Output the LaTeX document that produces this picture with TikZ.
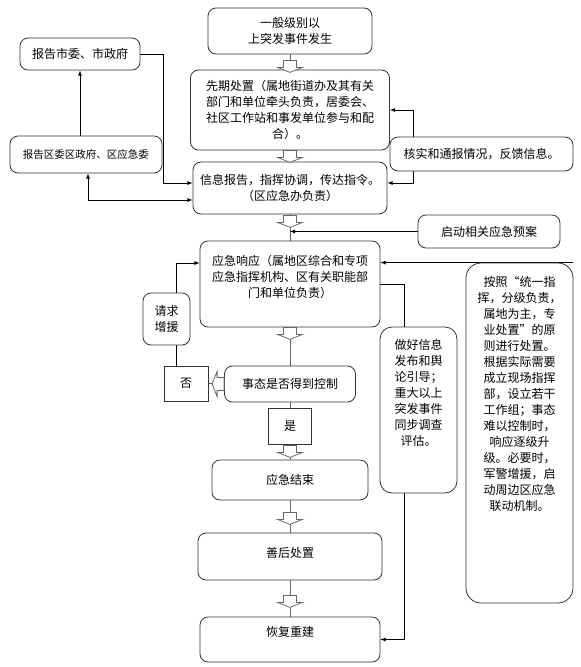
\documentclass[tikz,border=0pt]{standalone}
\usepackage{fontspec}
\newfontfamily\cjkfont{Noto Sans CJK SC}
\usepackage{tikz}
\usetikzlibrary{arrows,backgrounds,positioning}
\tikzset{
	flowbox/.style={rectangle, rounded corners=8pt, draw=black!80, fill=white, line width=0.8pt, inner sep=0pt, align=center, font=\cjkfont\fontsize{12}{16}\selectfont},
	squarebox/.style={flowbox, rounded corners=0pt},
	boxtext/.style={inner sep=0pt, align=center, font=\cjkfont\fontsize{12}{16}\selectfont},
	mainline/.style={draw=black!60, line width=0.8pt},
	sideline/.style={draw=black, line width=0.8pt, -latex},
	hollowarrow/.pic={\draw[draw=black!60, line width=0.8pt, fill=white] (-6.5pt,0pt) -- (-6.5pt,-7pt) -- (-12.5pt,-7pt) -- (0pt,-12pt) -- (12.5pt,-7pt) -- (6.5pt,-7pt) -- (6.5pt,0pt) -- cycle;}
}
\begin{document}
\begin{tikzpicture}[x=1pt, y=-1pt]
	\useasboundingbox (0,0) rectangle (581,667);
	% main column
	\node[flowbox, minimum width=164pt, minimum height=46pt] (start) at (290,31) {一般级别以\\上突发事件发生};
	\node[flowbox, minimum width=199pt, minimum height=80pt] (early) at (290,110) {先期处置（属地街道办及其有关\\部门和单位牵头负责，居委会、\\社区工作站和事发单位参与和配\\合）。};
	\node[flowbox, minimum width=194pt, minimum height=52pt] (info) at (290,188) {信息报告，指挥协调，传达指令。\\（区应急办负责）};
	\node[flowbox, minimum width=180pt, minimum height=86pt] (resp) at (290,284) {};
	\node[boxtext, below=14pt of resp.north] (resptxt) {应急响应（属地区综合和专项\\应急指挥机构、区有关职能部\\门和单位负责）};
	\node[flowbox, minimum width=131pt, minimum height=36pt] (ctrl) at (290,384) {事态是否得到控制};
	\node[squarebox, minimum width=43pt, minimum height=36pt] (yes) at (290,426) {是};
	\node[flowbox, minimum width=156pt, minimum height=40pt] (end) at (290,480) {应急结束};
	\node[flowbox, minimum width=184pt, minimum height=47pt, text depth=9pt] (after) at (290,556.5) {善后处置};
	\node[flowbox, minimum width=180pt, minimum height=45pt, text depth=17pt] (rebuild) at (290,639.5) {恢复重建};
	% left side
	\node[flowbox, minimum width=120pt, minimum height=32pt] (city) at (80,54) {报告市委、市政府};
	\node[flowbox, minimum width=152pt, minimum height=37pt, font=\cjkfont\fontsize{10.5}{14}\selectfont] (district) at (86,154.5) {报告区委区政府、区应急委};
	\node[flowbox, minimum width=47pt, minimum height=52pt] (help) at (166.5,319) {请求\\增援};
	\node[squarebox, minimum width=44pt, minimum height=35pt] (no) at (186,383.5) {否};
	% right side
	\node[flowbox, minimum width=183pt, minimum height=34pt] (verify) at (481.5,154) {核实和通报情况，反馈信息。};
	\node[flowbox, minimum width=142pt, minimum height=33pt] (plan) at (489,231.5) {启动相关应急预案};
	\node[flowbox, rounded corners=12pt, minimum width=77pt, minimum height=166pt] (media) at (418.5,410) {};
	\node[boxtext, below=12pt of media.north] (mediatxt) {做好信息\\发布和舆\\论引导；\\重大以上\\突发事件\\同步调查\\评估。};
	\node[flowbox, rounded corners=15pt, minimum width=107pt, minimum height=340pt] (rule) at (519.5,433) {};
	\node[boxtext, below=14pt of rule.north] (ruletxt) {按照“统一指\\挥，分级负责，\\属地为主，专\\业处置”的原\\则进行处置。\\根据实际需要\\成立现场指挥\\部，设立若干\\工作组；事态\\难以控制时，\\响应逐级升\\级。必要时，\\军警增援，启\\动周边区应急\\联动机制。};

	\coordinate (vx) at (413,0);
	\coordinate (cx) at (163,0);
	\coordinate (hx) at (176,0);
	\coordinate (mx) at (404,0);
	\begin{scope}[on background layer]
		\draw[mainline] (start.south) -- (early.north);
		\draw[mainline] (early.south) -- (info.north);
		\draw[mainline] (info.south) -- (resp.north);
		\draw[mainline] (resp.south) -- (ctrl.north);
		\draw[mainline] (ctrl.south) -- (yes.north);
		\draw[mainline] (yes.south) -- (end.north);
		\draw[mainline] (end.south) -- (after.north);
		\draw[mainline] (after.south) -- (rebuild.north);
		\draw[mainline] (ctrl.west) -- (no.east);
		\draw (no.north -| hx) -- (help.south -| hx);
		\draw[sideline] (help.north -| hx) |- ([yshift=21pt]resp.west);
		\draw[sideline] (verify.north -| vx) |- (early.east);
		\draw[sideline] (verify.south -| vx) |- ([yshift=5pt]info.east);
		\draw[sideline] (district.north -| city.south) -- (city.south);
		\draw[sideline] (city.east) -- (city.east -| cx) |- ([yshift=5pt]info.west);
		\draw[sideline, latex-latex] ([yshift=-12pt]info.west) -| ([xshift=2pt]district.south);
		\draw[sideline] (plan.west) -- (plan.west -| resp.north);
		\draw[sideline] (rule.north east) -- (rule.north east -| resp.east);
		\draw[sideline] (resp.east) -- (resp.east -| mx) |- (rebuild.east);
	\end{scope}

	% hollow block arrows
	\pic at ([yshift=-6pt]start.south) {hollowarrow};
	\pic at (early.south) {hollowarrow};
	\pic at ([yshift=-1pt]info.south) {hollowarrow};
	\pic at (resp.south) {hollowarrow};
	\pic at ([yshift=-1pt]yes.south) {hollowarrow};
	\pic at ([yshift=-12pt]end.south) {hollowarrow};
	\pic at ([yshift=-15pt]after.south) {hollowarrow};
	\pic[rotate=-90] at (ctrl.west) {hollowarrow};
\end{tikzpicture}
\end{document}
